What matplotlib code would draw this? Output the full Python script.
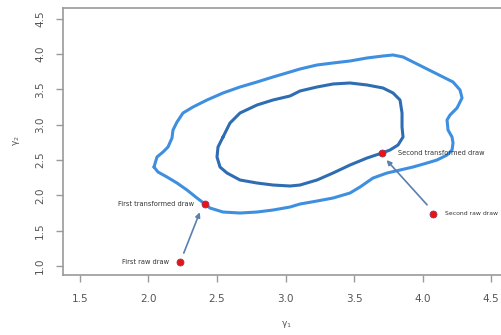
import matplotlib
matplotlib.use("Agg")
import matplotlib.pyplot as plt
import numpy as np

# pixel-traced contours converted to data
def px2d(pts):
    a = np.array(pts, dtype=float)
    return 1.5 + (a[:, 0] - 80) / 137.0, 1.0 + (266 - a[:, 1]) / 70.6

outer_px = [(154,167),(157,157),(163,152),(168,147),(172,138),(173,130),(177,122),(183,113),
            (193,107),(207,100),(223,93),(240,87),(257,82),(273,77),(290,72),(300,69),(317,65),
            (333,63),(350,61),(367,58),(383,56),(393,55),(403,57),(413,62),(423,67),(433,72),
            (443,77),(453,82),(460,90),(462,98),(457,108),(450,115),(447,120),(448,130),(452,137),
            (453,143),(452,150),(447,155),(437,160),(427,163),(413,167),(400,170),(387,173),
            (373,178),(360,187),(350,193),(333,198),(317,201),(300,204),(290,207),(273,210),
            (257,212),(240,213),(223,212),(210,208),(205,204),(197,198),(187,190),(177,183),
            (167,177),(158,172),(154,167)]
inner_px = [(223,137),(230,123),(240,113),(257,105),(273,100),(290,96),(300,91),(317,87),
            (333,84),(350,83),(367,85),(383,88),(393,93),(400,100),(402,113),(402,127),(403,137),
            (398,145),(390,150),(382,153),(367,158),(350,165),(333,173),(317,180),(300,185),
            (290,186),(273,185),(257,183),(240,180),(227,173),(220,167),(217,157),(218,147),
            (223,137)]
outer_x, outer_y = px2d(outer_px)
inner_x, inner_y = px2d(inner_px)

point_names = ["First raw draw", "First transformed draw", "Second transformed draw", "Second raw draw"]
point_x = [2.23, 2.412, 3.704, 4.077]
point_y = [1.057, 1.878, 2.60, 1.737]

xticks = [1.5, 2.0, 2.5, 3.0, 3.5, 4.0, 4.5]
yticks = [1.0, 1.5, 2.0, 2.5, 3.0, 3.5, 4.0, 4.5]

fig = plt.figure(figsize=(5.02, 3.35), dpi=100)
ax = fig.add_axes([63/502, 60/335, 1 - 63/502, 267/335])
ax.set_xlim(1.376, 4.58)
ax.set_ylim(0.873, 4.654)

for s in ["left", "bottom", "top"]:
    ax.spines[s].set_color("#9a9a9a")
    ax.spines[s].set_linewidth(1.2)
ax.spines["right"].set_visible(False)

ax.plot(outer_x, outer_y, color="#3f8fe0", lw=2.2, solid_capstyle="round", solid_joinstyle="round")
ax.plot(inner_x, inner_y, color="#2f6db3", lw=2.2, solid_capstyle="round", solid_joinstyle="round")

ax.set_xticks(xticks)
ax.set_yticks(yticks)
ax.set_xticklabels([f"{v:.1f}" for v in xticks])
ax.set_yticklabels([f"{v:.1f}" for v in yticks], rotation=90, va="center")
ax.tick_params(axis="both", colors="#9a9a9a", labelcolor="#555555", labelsize=7.5, length=5, width=1.0)
ax.tick_params(axis="x", pad=9)
ax.tick_params(axis="y", pad=8)

fig.text(286/502, 1 - 324/335, "γ$_1$", ha="center", va="center", fontsize=6.5, color="#555555")
fig.text(17/502, 1 - 141/335, "γ$_2$", ha="center", va="center", fontsize=6.5, color="#555555", rotation=90)

# arrows
ax.annotate("", xy=(point_x[1] - 0.03, point_y[1] - 0.08), xytext=(point_x[0] + 0.02, point_y[0] + 0.09),
            arrowprops=dict(arrowstyle="-|>", color="#5a80ad", lw=1.2, mutation_scale=7))
ax.annotate("", xy=(point_x[2] + 0.02, point_y[2] - 0.07), xytext=(point_x[3] - 0.03, point_y[3] + 0.1),
            arrowprops=dict(arrowstyle="-|>", color="#5a80ad", lw=1.2, mutation_scale=7))

ax.plot(point_x, point_y, "o", color="#ee1111", markeredgecolor="#8a3a60", markeredgewidth=0.6, markersize=5, zorder=5)

offsets = [(-0.08, "right", 4.8), (-0.08, "right", 4.8), (0.12, "left", 4.8), (0.09, "left", 4.4)]
for n, x, y, (dx, ha, fs) in zip(point_names, point_x, point_y, offsets):
    ax.text(x + dx, y, n, ha=ha, va="center", fontsize=fs, color="#333333")

fig.savefig("out.png", dpi=100)
